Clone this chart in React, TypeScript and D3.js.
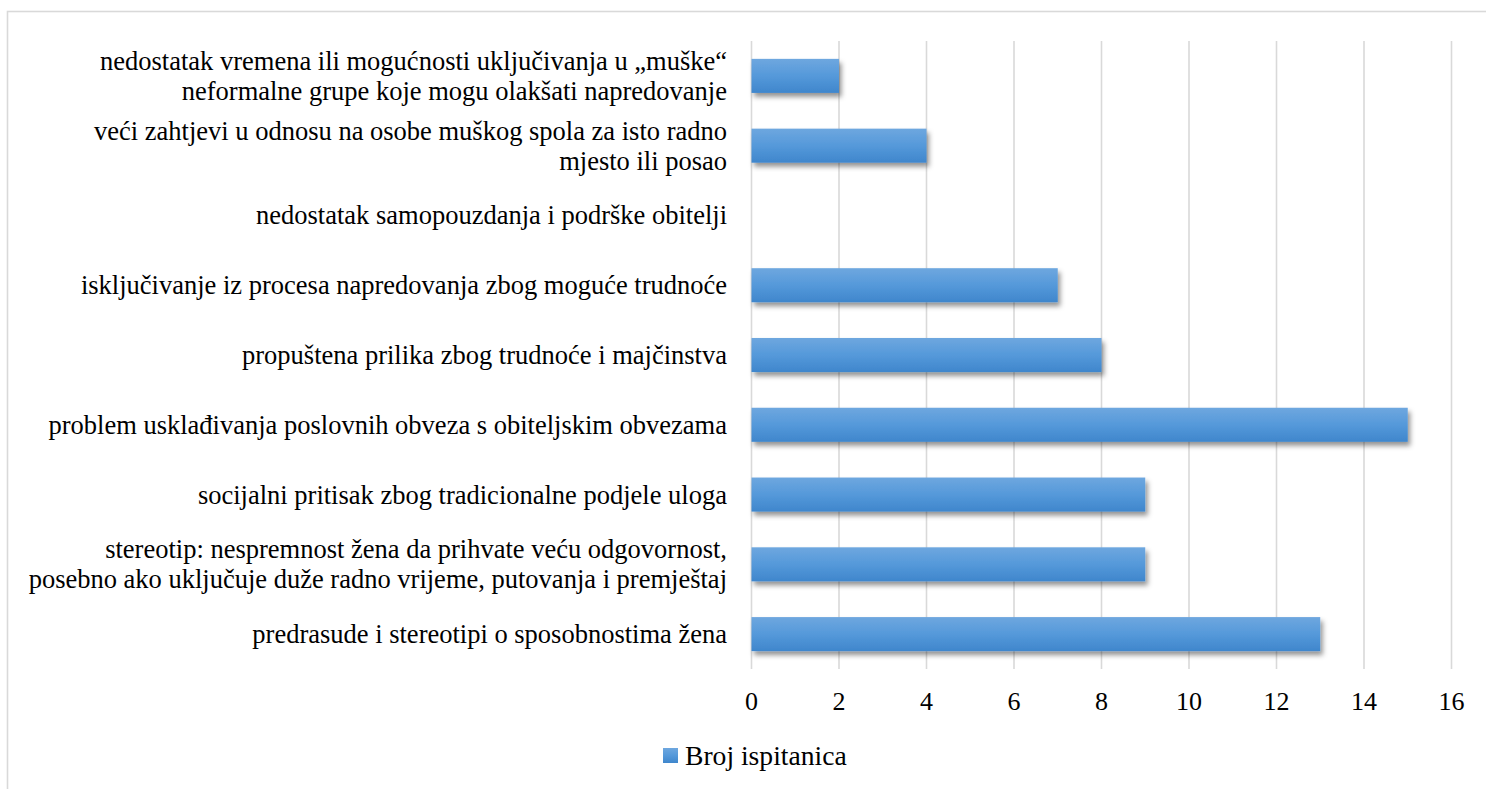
import React from "react";
import * as d3 from "d3";

const categories: string[] = [
  "nedostatak vremena ili mogućnosti uključivanja u „muške“\nneformalne grupe koje mogu olakšati napredovanje",
  "veći zahtjevi u odnosu na osobe muškog spola za isto radno\nmjesto ili posao",
  "nedostatak samopouzdanja i podrške obitelji",
  "isključivanje iz procesa napredovanja zbog moguće trudnoće",
  "propuštena prilika zbog trudnoće i majčinstva",
  "problem usklađivanja poslovnih obveza s obiteljskim obvezama",
  "socijalni pritisak zbog tradicionalne podjele uloga",
  "stereotip: nespremnost žena da prihvate veću odgovornost,\nposebno ako uključuje duže radno vrijeme, putovanja i premještaj",
  "predrasude i stereotipi o sposobnostima žena",
];
const values: number[] = [2, 4, 0, 7, 8, 15, 9, 9, 13];
const xTicks: number[] = [0, 2, 4, 6, 8, 10, 12, 14, 16];
const seriesName = "Broj ispitanica";

const W = 1486;
const H = 789;
const left = 751.5;
const right = 1451.5;
const top = 41;
const bottom = 669;

export default function App() {
  const x = d3.scaleLinear().domain([0, 16]).range([left, right]);
  const y = d3
    .scaleBand<number>()
    .domain(d3.range(categories.length))
    .range([top, bottom])
    .paddingInner(0.512)
    .paddingOuter(0.256);
  const font = "'Liberation Serif', 'Times New Roman', serif";
  const lineH = 30;
  return (
    <svg
      width={W}
      height={H}
      style={{ position: "absolute", left: 0, top: 0, background: "#fff" }}
      fontFamily={font}
    >
      <defs>
        <linearGradient id="barGrad" x1="0" y1="0" x2="0" y2="1">
          <stop offset="0" stopColor="#6ea7df" />
          <stop offset="0.5" stopColor="#5599da" />
          <stop offset="1" stopColor="#3f86cc" />
        </linearGradient>
        <filter id="shadow" x="-10%" y="-30%" width="130%" height="180%">
          <feDropShadow dx="2.5" dy="4" stdDeviation="2.6" floodColor="#000" floodOpacity="0.42" />
        </filter>
      </defs>
      <rect x={7.5} y={11.5} width={W + 20} height={H + 20} fill="none" stroke="#d9d9d9" strokeWidth={1.6} />
      {xTicks.map((t) => (
        <line key={t} x1={x(t)} x2={x(t)} y1={top} y2={bottom} stroke="#d9d9d9" strokeWidth={1.6} />
      ))}
      {values.map((v, i) =>
        v > 0 ? (
          <rect
            key={i}
            x={x(0)}
            y={y(i)!}
            width={x(v) - x(0)}
            height={y.bandwidth()}
            fill="url(#barGrad)"
            filter="url(#shadow)"
          />
        ) : null
      )}
      {categories.map((c, i) => {
        const lines = c.split("\n");
        const cy = y(i)! + y.bandwidth() / 2;
        const y0 = cy - ((lines.length - 1) * lineH) / 2;
        return (
          <text key={i} x={727} textAnchor="end" fontSize={26.5} fill="#000">
            {lines.map((l, j) => (
              <tspan key={j} x={727} y={y0 + j * lineH} dominantBaseline="central">
                {l}
              </tspan>
            ))}
          </text>
        );
      })}
      {xTicks.map((t) => (
        <text key={t} x={x(t)} y={701} textAnchor="middle" dominantBaseline="central" fontSize={26} fill="#000">
          {t}
        </text>
      ))}
      <rect x={663} y={748} width={15} height={15} fill="url(#barGrad)" />
      <text x={685} y={765} fontSize={27.6} fill="#000">
        {seriesName}
      </text>
    </svg>
  );
}
